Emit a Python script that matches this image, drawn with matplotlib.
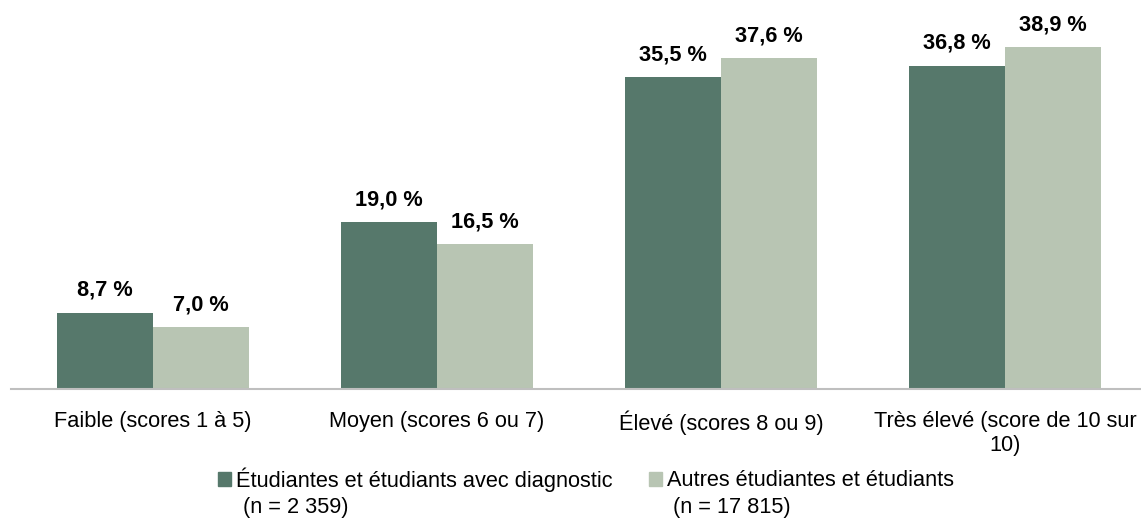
import matplotlib
matplotlib.use("Agg")
import matplotlib.pyplot as plt
import numpy as np
from matplotlib.patches import Patch

categories = ["Faible (scores 1 à 5)", "Moyen (scores 6 ou 7)", "Élevé (scores 8 ou 9)",
              "Très élevé (score de 10 sur\n10)"]
series_names = ["Étudiantes et étudiants avec diagnostic", "Autres étudiantes et étudiants"]
series_n = ["(n = 2 359)", "(n = 17 815)"]
diag = [8.7, 19.0, 35.5, 36.8]
autres = [7.0, 16.5, 37.6, 38.9]

dark = "#56786b"
light = "#b8c5b3"

plt.rcParams['font.family'] = ["Liberation Sans", "DejaVu Sans"]

W, H = 1141, 525
fig = plt.figure(figsize=(W/100, H/100), dpi=100)
ax = fig.add_axes([11/W, 1-389/H, 1136/W, 389/H])

x = np.arange(len(categories))
w = 0.338
b1 = ax.bar(x - w/2, diag, w, color=dark)
b2 = ax.bar(x + w/2, autres, w, color=light)

def fmt(v):
    return f"{v:.1f} %".replace(".", ",")

for bars, vals in ((b1, diag), (b2, autres)):
    for r, v in zip(bars, vals):
        ax.annotate(fmt(v), (r.get_x() + r.get_width()/2, v), xytext=(0, 8.5),
                    textcoords="offset points", ha="center", va="bottom",
                    fontsize=15.7, fontweight="bold", color="#000000")

ax.set_xlim(-0.5, 3.5)
ax.set_ylim(0, 389/8.79)
ax.set_yticks([])
ax.set_xticks(x)
ax.set_xticklabels(categories, fontsize=15.7, color="#000000", linespacing=1.2)
ax.tick_params(axis="x", length=0, pad=15.5)
for s in ("top", "right", "left"):
    ax.spines[s].set_visible(False)
ax.spines["bottom"].set_color("#bfbfbf")
ax.spines["bottom"].set_linewidth(1.5)

fs = 15.7
px = fs * 100 / 72
lg = fig.legend([Patch(color=dark), Patch(color=light)], series_names, loc="upper left",
                bbox_to_anchor=(218/W, 1-467/H), frameon=False, fontsize=fs, ncol=2,
                handlelength=13/px, handleheight=13/px, handletextpad=5/px,
                columnspacing=36/px, borderaxespad=0, borderpad=0)
n_x = [243, 673]
for i in range(2):
    fig.text(n_x[i]/W, 1-513/H, series_n[i], fontsize=fs, va="baseline", ha="left",
             color="#000000")

fig.savefig("out.png", dpi=100)
